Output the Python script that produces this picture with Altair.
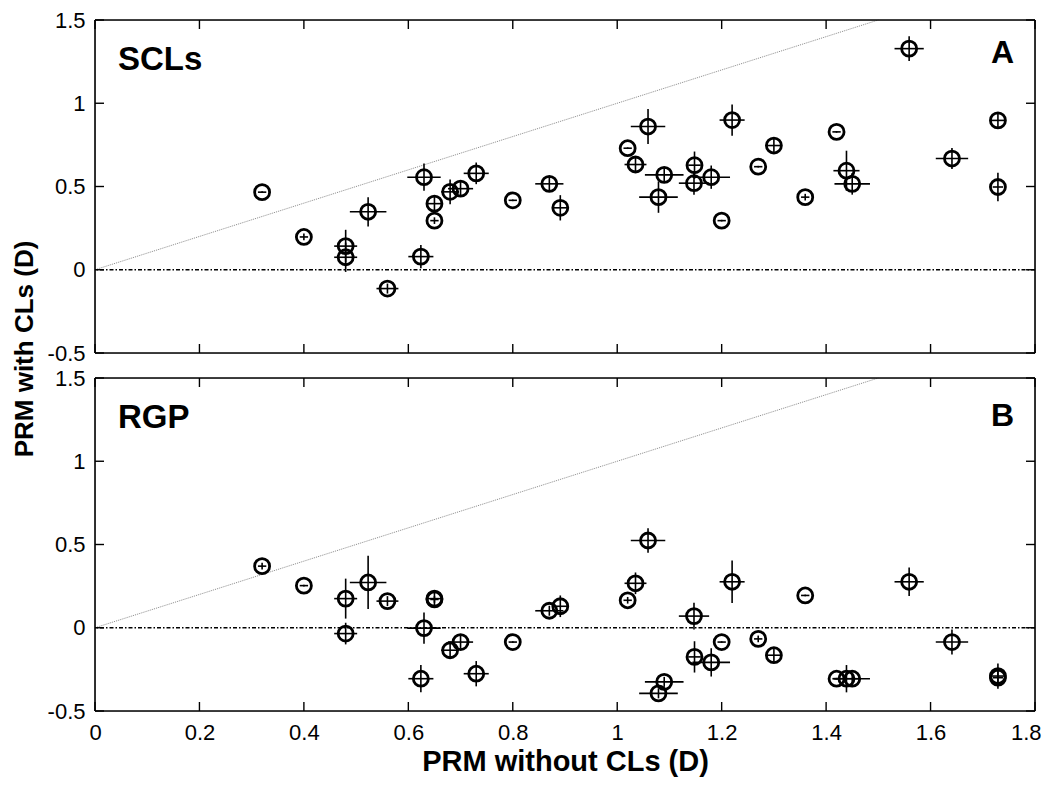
import altair as alt
import pandas as pd

# ---- data ----
x_vals = [0.32, 0.40, 0.48, 0.48, 0.523, 0.56, 0.63, 0.624, 0.65, 0.65, 0.68, 0.70,
          0.73, 0.80, 0.87, 0.891, 1.02, 1.035, 1.059, 1.09, 1.079, 1.148, 1.147, 1.18,
          1.20, 1.22, 1.27, 1.30, 1.36, 1.42, 1.439, 1.45, 1.559, 1.641, 1.729, 1.729]
x_err = [0.008, 0.008, 0.022, 0.022, 0.035, 0.021, 0.032, 0.024, 0.015, 0.008, 0.017, 0.024,
         0.024, 0.008, 0.027, 0.014, 0.008, 0.021, 0.033, 0.037, 0.037, 0.012, 0.029, 0.036,
         0.008, 0.024, 0.008, 0.015, 0.008, 0.008, 0.025, 0.034, 0.028, 0.031, 0.015, 0.010]

y_scl = [0.466, 0.197, 0.142, 0.075, 0.348, -0.113, 0.556, 0.079, 0.397, 0.295, 0.468, 0.487,
         0.579, 0.417, 0.516, 0.372, 0.73, 0.632, 0.86, 0.57, 0.436, 0.628, 0.52, 0.556,
         0.295, 0.899, 0.619, 0.746, 0.436, 0.828, 0.595, 0.516, 1.328, 0.668, 0.897, 0.497]
y_scl_err = [0.005, 0.02, 0.098, 0.088, 0.088, 0.03, 0.082, 0.07, 0.045, 0.02, 0.074, 0.045,
             0.065, 0.005, 0.045, 0.076, 0.005, 0.047, 0.105, 0.045, 0.094, 0.082, 0.07, 0.07,
             0.005, 0.094, 0.005, 0.045, 0.02, 0.005, 0.12, 0.065, 0.074, 0.063, 0.045, 0.085]

y_rgp = [0.37, 0.253, 0.175, -0.035, 0.272, 0.16, -0.002, -0.306, 0.175, 0.17, -0.135, -0.086,
         -0.276, -0.086, 0.102, 0.129, 0.165, 0.267, 0.524, -0.325, -0.394, -0.175, 0.07, -0.208,
         -0.086, 0.276, -0.067, -0.165, 0.194, -0.306, -0.306, -0.306, 0.276, -0.086, -0.29, -0.30]
y_rgp_err = [0.02, 0.005, 0.12, 0.065, 0.16, 0.03, 0.094, 0.082, 0.04, 0.02, 0.05, 0.04,
             0.076, 0.005, 0.03, 0.065, 0.02, 0.065, 0.074, 0.03, 0.03, 0.094, 0.08, 0.085,
             0.005, 0.128, 0.02, 0.04, 0.005, 0.005, 0.082, 0.03, 0.086, 0.075, 0.076, 0.04]

x_ticks = [0, 0.2, 0.4, 0.6, 0.8, 1, 1.2, 1.4, 1.6, 1.8]
y_ticks = [-0.5, 0, 0.5, 1, 1.5]
diag_vals = [0, 1.5]
zero_line = [0]
frame_dummy = [0]

x_title = "PRM without CLs (D)"
y_title = "PRM with CLs (D)"

W = 940
H = 333
GAP = 25
FONT = "Liberation Sans, Arial, Helvetica, sans-serif"

xs = alt.Scale(domain=[0, 1.8], nice=False, zero=False)
ys = alt.Scale(domain=[-0.5, 1.5], nice=False, zero=False)


def panel(yv, ye, label, letter, letter_y, show_x, show_ytitle):
    if show_x:
        xaxis = alt.Axis(values=x_ticks, title=x_title, ticks=False, domain=False, grid=False,
                         labelFlush=True, labelFlushOffset=6, labelExpr="'' + datum.value",
                         labelFontSize=22, labelPadding=11, titleFontSize=29,
                         titleFontWeight="bold", titlePadding=4)
    else:
        xaxis = alt.Axis(values=x_ticks, title=None, labels=False, ticks=False,
                         domain=False, grid=False)
    if show_ytitle:
        yaxis = alt.Axis(values=y_ticks, title=y_title, ticks=False, domain=False, grid=False,
                         labelExpr="'' + datum.value", labelFontSize=22, labelPadding=10,
                         titleFontSize=26, titleFontWeight="bold", titleAngle=270,
                         titleX=-71, titleY=(2 * H + GAP) / 2 - 17, titleAlign="center",
                         titleBaseline="middle")
    else:
        yaxis = alt.Axis(values=y_ticks, title=None, ticks=False, domain=False, grid=False,
                         labelExpr="'' + datum.value", labelFontSize=22, labelPadding=10)

    df = pd.DataFrame({"x": x_vals, "xe": x_err, "y": yv, "ye": ye})
    base = alt.Chart(df)

    zero = alt.Chart(pd.DataFrame({"y": zero_line})).mark_rule(
        color="black", strokeWidth=1.3, strokeDash=[4, 2, 1.5, 2]
    ).encode(y=alt.Y("y:Q", scale=ys, axis=yaxis))

    diag = alt.Chart(pd.DataFrame({"x": diag_vals, "y": diag_vals})).mark_line(
        color="#8a8a8a", strokeWidth=1, strokeDash=[1, 1]
    ).encode(x=alt.X("x:Q", scale=xs, axis=xaxis), y=alt.Y("y:Q", scale=ys, axis=yaxis))

    hbar = base.transform_calculate(
        xa="datum.x - datum.xe", xb="datum.x + datum.xe"
    ).mark_rule(color="black", strokeWidth=1.6).encode(
        x=alt.X("xa:Q", scale=xs, axis=xaxis), x2="xb:Q",
        y=alt.Y("y:Q", scale=ys, axis=yaxis))

    vbar = base.transform_calculate(
        ya="datum.y - datum.ye", yb="datum.y + datum.ye"
    ).mark_rule(color="black", strokeWidth=1.6).encode(
        x=alt.X("x:Q", scale=xs, axis=xaxis),
        y=alt.Y("ya:Q", scale=ys, axis=yaxis), y2="yb:Q")

    pts = base.mark_point(shape="circle", filled=False, size=225, strokeWidth=2.8,
                          color="black", opacity=1).encode(
        x=alt.X("x:Q", scale=xs, axis=xaxis), y=alt.Y("y:Q", scale=ys, axis=yaxis))

    xt = alt.Chart(pd.DataFrame({"t": x_ticks}))
    yt = alt.Chart(pd.DataFrame({"t": y_ticks}))
    tick_b = xt.mark_rule(color="black", strokeWidth=1.4).encode(
        x=alt.X("t:Q", scale=xs, axis=xaxis), y=alt.value(H), y2=alt.value(H - 9))
    tick_t = xt.mark_rule(color="black", strokeWidth=1.4).encode(
        x=alt.X("t:Q", scale=xs, axis=xaxis), y=alt.value(0), y2=alt.value(9))
    tick_l = yt.mark_rule(color="black", strokeWidth=1.4).encode(
        y=alt.Y("t:Q", scale=ys, axis=yaxis), x=alt.value(0), x2=alt.value(9))
    tick_r = yt.mark_rule(color="black", strokeWidth=1.4).encode(
        y=alt.Y("t:Q", scale=ys, axis=yaxis), x=alt.value(W - 9), x2=alt.value(W))

    fr = alt.Chart(pd.DataFrame({"d": frame_dummy}))
    frame = [
        fr.mark_rule(color="black", strokeWidth=1.6).encode(y=alt.value(0)),
        fr.mark_rule(color="black", strokeWidth=1.6).encode(y=alt.value(H)),
        fr.mark_rule(color="black", strokeWidth=1.6).encode(x=alt.value(0)),
        fr.mark_rule(color="black", strokeWidth=1.6).encode(x=alt.value(W)),
    ]

    lab = alt.Chart(pd.DataFrame({"t": [label]})).mark_text(
        font=FONT, fontSize=33, fontWeight="bold", align="left", baseline="alphabetic",
        color="black").encode(text="t:N", x=alt.value(23), y=alt.value(50))
    let = alt.Chart(pd.DataFrame({"t": [letter]})).mark_text(
        font=FONT, fontSize=32, fontWeight="bold", align="right", baseline="alphabetic",
        color="black").encode(text="t:N", x=alt.value(W - 21), y=alt.value(letter_y))

    return alt.layer(zero, diag, hbar, vbar, pts, tick_b, tick_t, tick_l, tick_r,
                     *frame, lab, let).properties(width=W, height=H)


top = panel(y_scl, y_scl_err, "SCLs", "A", 43, False, True)
bot = panel(y_rgp, y_rgp_err, "RGP", "B", 48, True, False)

chart = alt.vconcat(top, bot, spacing=GAP, bounds="flush").properties(
    padding={"left": 2, "top": 0, "right": 0, "bottom": 0}
).configure_view(stroke="black", strokeWidth=1.5).configure_axis(
    labelFont=FONT, titleFont=FONT, labelColor="black", titleColor="black"
).configure(background="white")

chart.save("out.html", embed_options={"renderer": "svg", "actions": False})
